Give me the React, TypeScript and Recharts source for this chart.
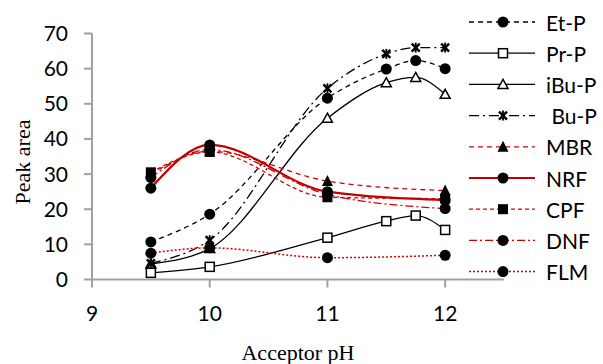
import { LineChart, Line, XAxis, YAxis } from 'recharts';

// acceptor pH values
const PH = [9.5, 10, 11, 11.5, 11.75, 12];
const RED_PH = [9.5, 10, 11, 12];
const X_TICKS = [9, 10, 11, 12];
const Y_TICKS = [0, 10, 20, 30, 40, 50, 60, 70];

// parabens (measured at all six pH values)
const etP = [10.7, 18.6, 51.6, 59.9, 62.3, 60];
const prP = [1.9, 3.6, 11.9, 16.6, 18.2, 14.1];
const ibuP = [4.4, 8.8, 45.9, 56, 57.5, 52.7];
const buP = [4.6, 11.2, 54.4, 64.2, 66, 66];

// drugs (measured at 9.5, 10, 11, 12)
const mbr = [30, 36.5, 28, 25.3];
const nrf = [26, 38.3, 25, 22.6];
const cpf = [30.5, 36.3, 23.4, 23];
const dnf = [29, 37, 24.2, 20.2];
const flm = [7.5, 9, 6.2, 6.9];

const RED = '#d40000';

const redAt = (arr: number[], ph: number) => {
  const i = RED_PH.indexOf(ph);
  return i < 0 ? null : arr[i];
};

const data = PH.map((ph, i) => ({
  ph,
  etP: etP[i],
  prP: prP[i],
  ibuP: ibuP[i],
  buP: buP[i],
  mbr: redAt(mbr, ph),
  nrf: redAt(nrf, ph),
  cpf: redAt(cpf, ph),
  dnf: redAt(dnf, ph),
  flm: redAt(flm, ph),
}));

type Kind = 'circle' | 'openSquare' | 'openTriangle' | 'star' | 'triangle' | 'square';

const series: { key: string; name: string; color: string; dash?: string; width: number; marker: Kind }[] = [
  { key: 'etP', name: 'Et-P', color: '#000', dash: '5 4', width: 1.3, marker: 'circle' },
  { key: 'prP', name: 'Pr-P', color: '#000', width: 1.3, marker: 'openSquare' },
  { key: 'ibuP', name: 'iBu-P', color: '#000', width: 1.3, marker: 'openTriangle' },
  { key: 'buP', name: ' Bu-P', color: '#000', dash: '10 4 2 4', width: 1.3, marker: 'star' },
  { key: 'mbr', name: 'MBR', color: RED, dash: '5 4', width: 1.3, marker: 'triangle' },
  { key: 'nrf', name: 'NRF', color: '#c00000', width: 2.2, marker: 'circle' },
  { key: 'cpf', name: 'CPF', color: RED, dash: '4 3', width: 1.3, marker: 'square' },
  { key: 'dnf', name: 'DNF', color: RED, dash: '8 3 2 3', width: 1.3, marker: 'circle' },
  { key: 'flm', name: 'FLM', color: RED, dash: '2 2', width: 1.5, marker: 'circle' },
];

function Marker({ kind, cx, cy }: { kind: Kind; cx: number; cy: number }) {
  const s = 5;
  switch (kind) {
    case 'circle':
      return <circle cx={cx} cy={cy} r={5.5} fill="#000" />;
    case 'openSquare':
      return <rect x={cx - 4.5} y={cy - 4.5} width={9} height={9} fill="#fff" stroke="#000" strokeWidth={1.5} />;
    case 'square':
      return <rect x={cx - 5} y={cy - 5} width={10} height={10} fill="#000" />;
    case 'openTriangle':
      return (
        <polygon
          points={`${cx},${cy - s} ${cx + s},${cy + s - 1} ${cx - s},${cy + s - 1}`}
          fill="#fff"
          stroke="#000"
          strokeWidth={1.5}
        />
      );
    case 'triangle':
      return <polygon points={`${cx},${cy - 6} ${cx + 5.5},${cy + 5} ${cx - 5.5},${cy + 5}`} fill="#000" />;
    case 'star':
      return (
        <g stroke="#000" strokeWidth={2.5}>
          <line x1={cx - 4} y1={cy - 4} x2={cx + 4} y2={cy + 4} />
          <line x1={cx - 4} y1={cy + 4} x2={cx + 4} y2={cy - 4} />
          <line x1={cx} y1={cy - 5} x2={cx} y2={cy + 5} strokeWidth={1.8} />
        </g>
      );
  }
  return null;
}

const FONT = 'Lato, "Open Sans", sans-serif';
const AXIS = '#a0a0a0';

function YLabel() {
  return (
    <text
      x={22}
      y={162}
      transform="rotate(-90 22 162)"
      textAnchor="middle"
      dominantBaseline="central"
      fontFamily='"Liberation Serif", serif'
      fontSize={22}
      fill="#000"
    >
      Peak area
    </text>
  );
}

function XLabel() {
  return (
    <text x={298} y={360} textAnchor="middle" fontFamily='"Liberation Serif", serif' fontSize={22} fill="#000">
      Acceptor pH
    </text>
  );
}

function ChartLegend() {
  return (
    <svg width={140} height={300} style={{ position: 'absolute', left: 463, top: 4 }}>
      {series.map((s, i) => {
        const y = 18 + i * 31.2;
        return (
          <g key={s.key}>
            <line x1={6} x2={72} y1={y} y2={y} stroke={s.color} strokeWidth={s.width} strokeDasharray={s.dash} />
            <Marker kind={s.marker} cx={40} cy={y} />
            <text
              x={83}
              y={y}
              dominantBaseline="central"
              fontFamily={FONT}
              fontSize={21}
              fill="#000"
              style={{ whiteSpace: 'pre' }}
            >
              {s.name}
            </text>
          </g>
        );
      })}
    </svg>
  );
}

export default function App() {
  return (
    <div style={{ position: 'absolute', left: 0, top: 0, width: 603, height: 364, background: '#fff' }}>
      <LineChart width={603} height={364} data={data} margin={{ top: 33.5, right: 99, bottom: 24.5, left: 0 }}>
        <XAxis
          dataKey="ph"
          type="number"
          domain={[9, 12.5]}
          ticks={X_TICKS}
          allowDataOverflow
          height={60}
          stroke={AXIS}
          strokeWidth={2}
          tickSize={8}
          tickMargin={19}
          tick={{ fill: '#000', fontSize: 21, fontFamily: FONT }}
          label={<XLabel />}
        />
        <YAxis
          type="number"
          domain={[0, 70]}
          ticks={Y_TICKS}
          width={92}
          stroke={AXIS}
          strokeWidth={2}
          tickSize={8}
          tickMargin={16}
          tick={{ fill: '#000', fontSize: 21, fontFamily: FONT }}
          label={<YLabel />}
        />
        {series.map((s) => (
          <Line
            key={s.key}
            dataKey={s.key}
            name={s.name}
            type="monotone"
            stroke={s.color}
            strokeWidth={s.width}
            strokeDasharray={s.dash}
            connectNulls
            isAnimationActive={false}
            activeDot={false}
            dot={(p: any) =>
              p.cx == null || p.cy == null || p.value == null ? (
                <g key={`${s.key}-${p.index}`} />
              ) : (
                <g key={`${s.key}-${p.index}`}>
                  <Marker kind={s.marker} cx={p.cx} cy={p.cy} />
                </g>
              )
            }
          />
        ))}
      </LineChart>
      <ChartLegend />
    </div>
  );
}
